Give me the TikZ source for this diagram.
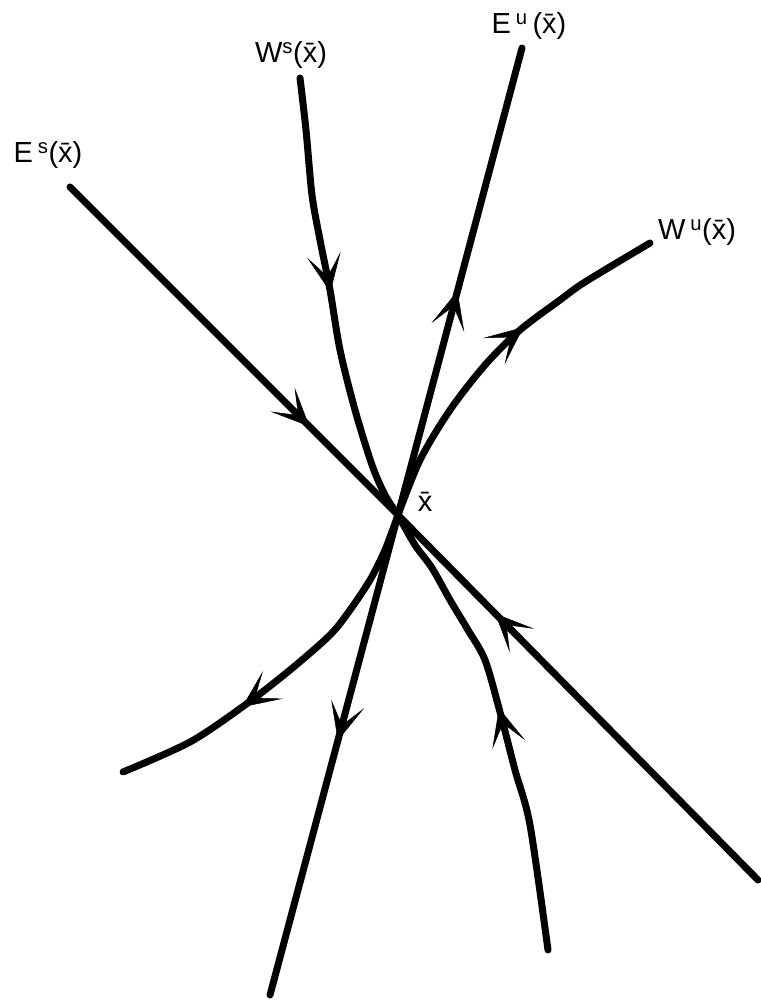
\documentclass[tikz,border=0pt]{standalone}
\usepackage{fontspec}
\setmainfont{Liberation Sans}
\usetikzlibrary{arrows.meta,decorations.markings}

\begin{document}
\begin{tikzpicture}[x=1pt, y=-1pt,
    flowline/.style={line width=7pt, line cap=round},
    arrowat/.style={postaction={decorate}, decoration={markings,
        mark=at position #1 with {\arrow{Stealth[length=38pt, width=34pt, inset=22pt, line width=0.5pt]}}}},
    lbl/.style={font=\fontsize{29}{35}\selectfont, inner sep=0pt}]
    \useasboundingbox (0,0) rectangle (760,1000);

    \coordinate (O) at (398,515);
    \coordinate (Es1) at (70,187);
    \coordinate (Es2) at (758,880);
    \coordinate (Eu1) at (522,48);
    \coordinate (Eu2) at (270,995);
    \coordinate (Ws1) at (300,78);
    \coordinate (Ws2) at (548,950);
    \coordinate (Wu1) at (650,243);
    \coordinate (Wu2) at (123,772);

    % linear spaces
    \draw[flowline, arrowat=0.73] (Es1) -- (O);
    \draw[flowline, arrowat=0.73] (Es2) -- (O);
    \draw[flowline, arrowat=0.48] (O) -- (Eu1);
    \draw[flowline, arrowat=0.47] (O) -- (Eu2);

    % stable manifold
    \draw[flowline, arrowat=0.48] plot[smooth, tension=0.5] coordinates {(Ws1) (306,130) (312,195) (320,240) (330,290) (340,350) (355,410) (372,465) (385,495) (O)};
    \draw[flowline, arrowat=0.53] plot[smooth, tension=0.5] coordinates {(Ws2) (530,825) (515,770) (500,712) (485,660) (468,630) (450,600) (432,568) (415,545) (O)};

    % unstable manifold
    \draw[flowline, arrowat=0.60] plot[smooth, tension=0.5] coordinates {(O) (420,460) (450,410) (485,365) (520,330) (560,300) (585,282) (Wu1)};
    \draw[flowline, arrowat=0.65] plot[smooth, tension=0.5] coordinates {(O) (385,550) (370,580) (350,610) (330,635) (290,670) (245,705) (190,742) (Wu2)};

    \node[lbl] (es) at (48,155) {E\,\textsuperscript{s}(\={x})};
    \node[lbl] (ws) at (291,55) {W\textsuperscript{s}(\={x})};
    \node[lbl] (eu) at (529,26) {E\,\textsuperscript{u}\,(\={x})};
    \node[lbl] (wu) at (697,232) {W\,\textsuperscript{u}(\={x})};
    \node[lbl] (xbar) at (425,502) {\={x}};
\end{tikzpicture}
\end{document}
